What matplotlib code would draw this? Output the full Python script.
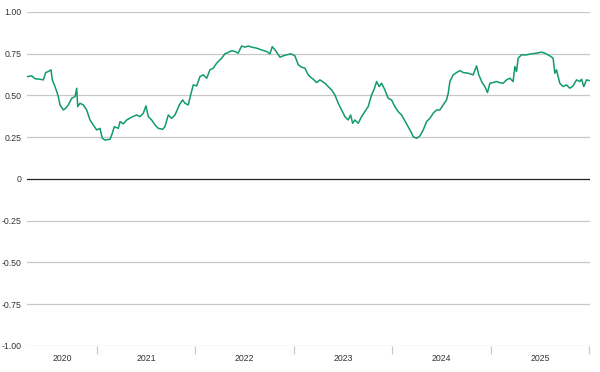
import matplotlib.pyplot as plt
import numpy as np

plt.rcParams['font.family'] = ['Liberation Sans', 'DejaVu Sans']

# rolling correlation (decimal years, value)
years = [2020.296, 2020.337, 2020.371, 2020.421, 2020.455, 2020.479, 2020.506, 2020.533,
         2020.546, 2020.567, 2020.591, 2020.607, 2020.624, 2020.658, 2020.682, 2020.709,
         2020.743, 2020.777, 2020.794, 2020.804, 2020.827, 2020.861, 2020.895, 2020.929,
         2020.962, 2020.997, 2021.030, 2021.054, 2021.081, 2021.132, 2021.155, 2021.176,
         2021.216, 2021.234, 2021.267, 2021.302, 2021.352, 2021.403, 2021.437, 2021.470,
         2021.497, 2021.521, 2021.555, 2021.589, 2021.622, 2021.667, 2021.690, 2021.724,
         2021.758, 2021.792, 2021.836, 2021.870, 2021.893, 2021.927, 2021.951, 2021.978,
         2022.012, 2022.046, 2022.079, 2022.114, 2022.147, 2022.181, 2022.215, 2022.232,
         2022.266, 2022.299, 2022.333, 2022.367, 2022.401, 2022.434, 2022.469, 2022.503,
         2022.536, 2022.571, 2022.621, 2022.672, 2022.723, 2022.756, 2022.780, 2022.814,
         2022.858, 2022.891, 2022.926, 2022.970, 2023.010, 2023.044, 2023.078, 2023.112,
         2023.145, 2023.162, 2023.196, 2023.230, 2023.264, 2023.315, 2023.348, 2023.383,
         2023.416, 2023.450, 2023.484, 2023.518, 2023.551, 2023.576, 2023.596, 2023.619,
         2023.653, 2023.687, 2023.721, 2023.754, 2023.789, 2023.812, 2023.840, 2023.866,
         2023.890, 2023.924, 2023.957, 2023.992, 2024.025, 2024.059, 2024.093, 2024.127,
         2024.155, 2024.188, 2024.211, 2024.246, 2024.279, 2024.313, 2024.347, 2024.381,
         2024.414, 2024.449, 2024.482, 2024.516, 2024.550, 2024.567, 2024.584, 2024.617,
         2024.652, 2024.685, 2024.719, 2024.769, 2024.820, 2024.855, 2024.878, 2024.911,
         2024.939, 2024.966, 2024.990, 2025.023, 2025.058, 2025.091, 2025.125, 2025.159,
         2025.193, 2025.226, 2025.244, 2025.261, 2025.277, 2025.312, 2025.362, 2025.413,
         2025.464, 2025.515, 2025.548, 2025.599, 2025.632, 2025.650, 2025.667, 2025.700,
         2025.734, 2025.768, 2025.802, 2025.835, 2025.870, 2025.903, 2025.921, 2025.944,
         2025.971, 2025.998]
corr = [0.613, 0.617, 0.600, 0.597, 0.593, 0.637, 0.643, 0.653,
        0.593, 0.563, 0.523, 0.493, 0.443, 0.413, 0.423, 0.443,
        0.483, 0.493, 0.543, 0.433, 0.453, 0.443, 0.413, 0.353,
        0.323, 0.293, 0.303, 0.243, 0.233, 0.237, 0.273, 0.313,
        0.303, 0.343, 0.330, 0.353, 0.370, 0.383, 0.373, 0.393,
        0.437, 0.373, 0.353, 0.323, 0.303, 0.297, 0.313, 0.383,
        0.363, 0.383, 0.443, 0.473, 0.453, 0.443, 0.503, 0.563,
        0.557, 0.613, 0.623, 0.603, 0.653, 0.663, 0.693, 0.703,
        0.723, 0.749, 0.757, 0.768, 0.763, 0.753, 0.796, 0.789,
        0.796, 0.789, 0.783, 0.772, 0.763, 0.749, 0.792, 0.768,
        0.729, 0.737, 0.743, 0.749, 0.737, 0.683, 0.669, 0.663,
        0.623, 0.613, 0.597, 0.577, 0.593, 0.573, 0.553, 0.533,
        0.503, 0.453, 0.413, 0.373, 0.353, 0.383, 0.333, 0.353,
        0.333, 0.373, 0.403, 0.433, 0.503, 0.533, 0.583, 0.553,
        0.573, 0.533, 0.483, 0.473, 0.433, 0.403, 0.383, 0.348,
        0.318, 0.283, 0.253, 0.243, 0.257, 0.293, 0.343, 0.363,
        0.393, 0.413, 0.413, 0.443, 0.473, 0.513, 0.583, 0.623,
        0.637, 0.649, 0.637, 0.633, 0.623, 0.677, 0.623, 0.577,
        0.553, 0.517, 0.573, 0.577, 0.583, 0.576, 0.573, 0.593,
        0.603, 0.583, 0.673, 0.643, 0.723, 0.743, 0.743, 0.749,
        0.753, 0.759, 0.753, 0.737, 0.723, 0.633, 0.653, 0.573,
        0.553, 0.563, 0.543, 0.557, 0.593, 0.583, 0.597, 0.553,
        0.593, 0.589]

year_labels = ['2020', '2021', '2022', '2023', '2024', '2025']
yticks = [1.0, 0.75, 0.5, 0.25, 0, -0.25, -0.5, -0.75, -1.0]
ytick_labels = ['1.00', '0.75', '0.50', '0.25', '0', '-0.25', '-0.50', '-0.75', '-1.00']

x_start, x_end = 2020.289, 2026.005

fig = plt.figure(figsize=(6, 3.72), dpi=100)
ax = fig.add_axes([0.045, 0.07, 0.938, 0.898])

for y in yticks:
    if y == 0:
        ax.axhline(y, color='#222222', lw=0.9, zorder=1)
    else:
        ax.axhline(y, color='#c8c8c8', lw=0.9, zorder=1)

ax.plot(years, corr, color='#119b6a', lw=1.1, zorder=3)

ax.set_xlim(x_start, x_end)
ax.set_ylim(-1.0, 1.0)
for s in ax.spines.values():
    s.set_visible(False)

ax.set_yticks(yticks)
ax.set_yticklabels(ytick_labels)
ax.tick_params(axis='y', length=0, pad=4, labelsize=6.3, labelcolor='#333333')

# year boundaries as ticks, labels centred in each visible year
bounds = [2021, 2022, 2023, 2024, 2025, 2026]
starts = [x_start] + bounds[:-1]
ends = bounds[:-1] + [x_end]
centres = [(a + b) / 2 for a, b in zip(starts, ends)]
ax.set_xticks(bounds)
ax.set_xticklabels([])
ax.tick_params(axis='x', which='major', length=6, width=0.9, color='#c8c8c8', direction='out')
ax.set_xticks(centres, minor=True)
ax.set_xticklabels(year_labels, minor=True)
ax.tick_params(axis='x', which='minor', length=0, pad=6, labelsize=6.3, labelcolor='#333333')

fig.savefig('out.png', dpi=100)
